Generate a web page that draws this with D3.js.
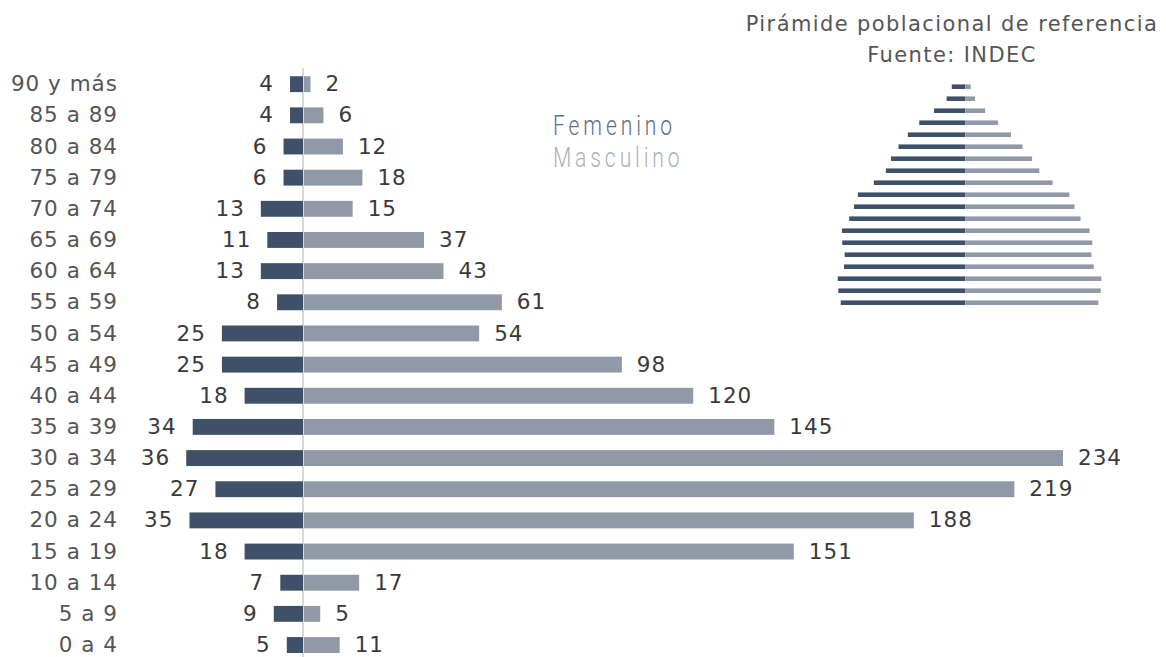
<!DOCTYPE html>
<html><head><meta charset="utf-8">
<script src="https://cdn.jsdelivr.net/npm/d3@7"></script>
<style>
html,body{margin:0;padding:0;background:#fff;}
svg{display:block;}
</style></head>
<body>
<svg id="c" width="1166" height="657"></svg>
<script>
const categories = ["90 y más","85 a 89","80 a 84","75 a 79","70 a 74","65 a 69","60 a 64","55 a 59","50 a 54","45 a 49","40 a 44","35 a 39","30 a 34","25 a 29","20 a 24","15 a 19","10 a 14","5 a 9","0 a 4"];
const femenino  = [4,4,6,6,13,11,13,8,25,25,18,34,36,27,35,18,7,9,5];
const masculino = [2,6,12,18,15,37,43,61,54,98,120,145,234,219,188,151,17,5,11];
// Reference pyramid (INDEC), % of population by age group, same order
const refFemenino  = [0.45,0.62,1.04,1.53,1.91,2.22,2.47,2.64,3.04,3.57,3.70,3.86,4.10,4.09,4.01,4.03,4.24,4.22,4.14];
const refMasculino = [0.18,0.32,0.66,1.09,1.52,1.90,2.22,2.46,2.90,3.46,3.63,3.83,4.13,4.22,4.19,4.27,4.52,4.50,4.42];
const legendLabels = ["Femenino","Masculino"];
const titleLines = ["Pirámide poblacional de referencia","Fuente: INDEC"];

const FONT = "'DejaVu Sans', sans-serif";
const cDark = "#3f5069", cLight = "#9099a6";
const svg = d3.select("#c");

const cx = 303;
const x = d3.scaleLinear().domain([0,234]).range([0,759]);
const y = d3.scaleBand().domain(categories).range([68.6, 660.6]).paddingInner(0.49).paddingOuter(0.245);

// center line
svg.append("line").attr("x1",cx).attr("x2",cx).attr("y1",68).attr("y2",657)
  .attr("stroke","#d9d9d9").attr("stroke-width",2);

const g = svg.append("g");
g.selectAll(".f").data(categories).join("rect")
  .attr("x",(d,i)=>cx - x(femenino[i])).attr("y",d=>y(d))
  .attr("width",(d,i)=>x(femenino[i])).attr("height",y.bandwidth()).attr("fill",cDark);
g.selectAll(".m").data(categories).join("rect")
  .attr("x",cx+1).attr("y",d=>y(d))
  .attr("width",(d,i)=>x(masculino[i])).attr("height",y.bandwidth()).attr("fill",cLight);

const mid = d => y(d)+y.bandwidth()/2;
g.selectAll(".fl").data(categories).join("text")
  .attr("x",(d,i)=>cx - x(femenino[i]) - 16).attr("y",mid).attr("dy","0.33em")
  .attr("text-anchor","end").attr("font-family",FONT).attr("font-size",21.5).attr("letter-spacing",1)
  .attr("fill","#3a3a3a")
  .text((d,i)=>femenino[i]);
g.selectAll(".ml").data(categories).join("text")
  .attr("x",(d,i)=>cx + x(masculino[i]) + 16).attr("y",mid).attr("dy","0.33em")
  .attr("text-anchor","start").attr("font-family",FONT).attr("font-size",21.5).attr("letter-spacing",1)
  .attr("fill","#3a3a3a")
  .text((d,i)=>masculino[i]);

// category axis labels
const yAxis = d3.axisLeft(y).tickSize(0).tickPadding(0);
const ag = svg.append("g").attr("transform","translate(118,0)").call(yAxis);
ag.select(".domain").remove();
ag.selectAll("text").attr("font-family",FONT).attr("font-size",21.5).attr("letter-spacing",1)
  .attr("fill","#555").attr("dy","0.33em");

// legend (light, condensed look)
svg.selectAll(".leg").data(legendLabels).join("text")
  .attr("transform",(d,i)=>`translate(553,${135+i*32}) scale(0.78,1)`)
  .attr("font-family","Roboto, sans-serif").attr("font-weight",300).attr("font-size",27)
  .attr("letter-spacing",5)
  .attr("fill",(d,i)=>i===0?"#5f6e85":"#a9b1bc").text(d=>d);

// title
svg.selectAll(".tt").data(titleLines).join("text")
  .attr("x",952).attr("y",(d,i)=>31+i*31).attr("text-anchor","middle")
  .attr("font-family",FONT).attr("font-size",21).attr("letter-spacing",1.4)
  .attr("fill","#555").text(d=>d);

// inset pyramid
const rc = 965.3;
const rx = d3.scaleLinear().domain([0,4.52]).range([0,136]);
const ry = d3.scaleBand().domain(categories).range([80.7,308.7]).paddingInner(0.62).paddingOuter(0.31);
const ig = svg.append("g");
ig.selectAll(".rf").data(categories).join("rect")
  .attr("x",(d,i)=>rc - rx(refFemenino[i])).attr("y",d=>ry(d))
  .attr("width",(d,i)=>rx(refFemenino[i])).attr("height",ry.bandwidth()).attr("fill",cDark);
ig.selectAll(".rm").data(categories).join("rect")
  .attr("x",rc).attr("y",d=>ry(d))
  .attr("width",(d,i)=>rx(refMasculino[i])).attr("height",ry.bandwidth()).attr("fill",cLight);
</script>
</body></html>
